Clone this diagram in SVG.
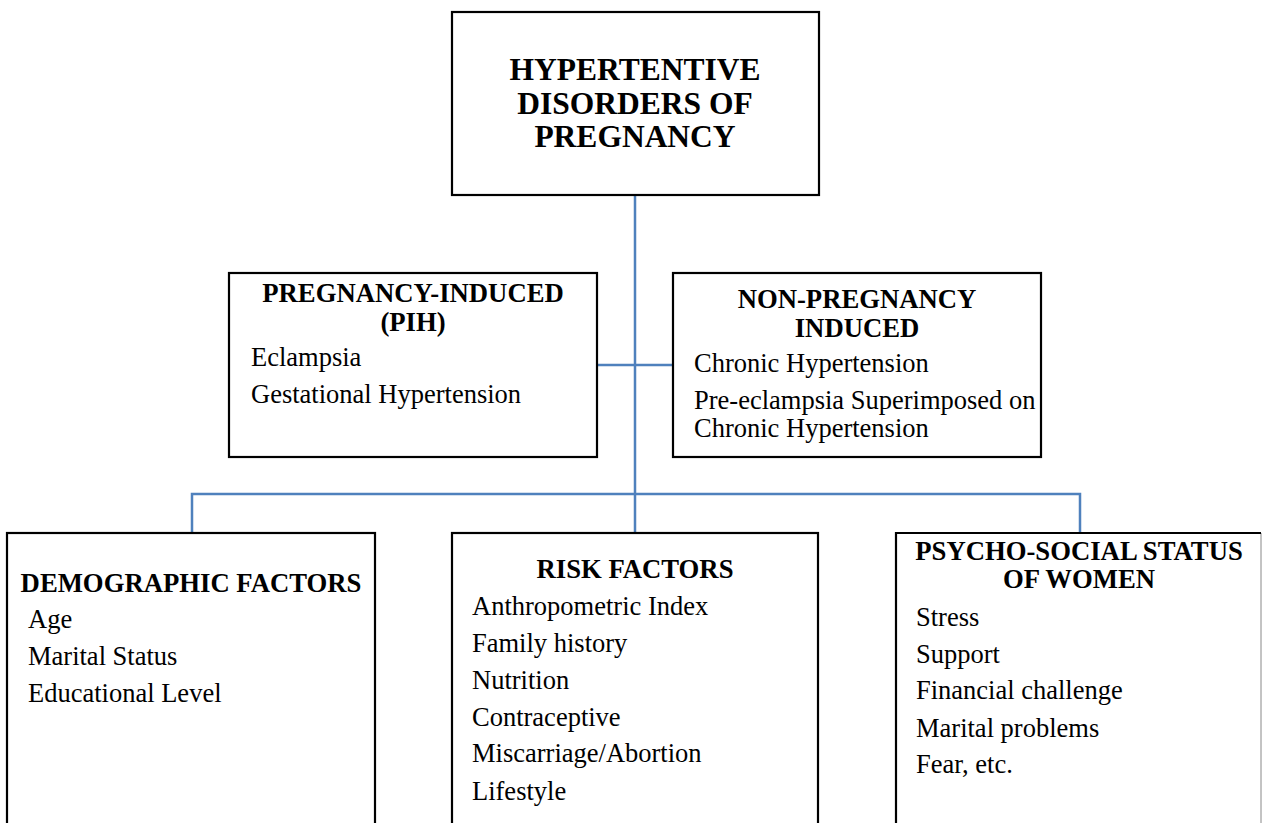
<svg xmlns="http://www.w3.org/2000/svg" width="1262" height="823" viewBox="0 0 1262 823">
<style>
.box{fill:#fff;stroke:#000;stroke-width:2.2}
.conn{fill:none;stroke:#4F81BD;stroke-width:2.5}
text{font-family:'Liberation Serif','Times New Roman',Times,'DejaVu Serif',serif;fill:#000}
.main{font-size:31.5px;font-weight:bold;text-anchor:middle}
.title{font-size:26.7px;font-weight:bold;text-anchor:middle}
.item{font-size:26.5px}
</style>
<rect width="1262" height="823" fill="#fff"/>
<g id="connectors">
<path class="conn" d="M635,195 V533"/>
<path class="conn" d="M597,365 H673"/>
<path class="conn" d="M192,533 V494 H1080 V533"/>
</g>
<g id="node-main">
<rect class="box" x="452" y="12" width="367" height="183"/>
<text class="main" x="635" y="80">HYPERTENTIVE</text>
<text class="main" x="635" y="113.5">DISORDERS OF</text>
<text class="main" x="635" y="147">PREGNANCY</text>
</g>
<g id="node-pih">
<rect class="box" x="229" y="273" width="368" height="184"/>
<text class="title" x="413" y="302">PREGNANCY-INDUCED</text>
<text class="title" x="413" y="331">(PIH)</text>
<text class="item" x="251" y="366">Eclampsia</text>
<text class="item" x="251" y="403">Gestational Hypertension</text>
</g>
<g id="node-npi">
<rect class="box" x="673" y="273" width="368" height="184"/>
<text class="title" x="857" y="308">NON-PREGNANCY</text>
<text class="title" x="857" y="337">INDUCED</text>
<text class="item" x="694" y="372">Chronic Hypertension</text>
<text class="item" x="694" y="409">Pre-eclampsia Superimposed on</text>
<text class="item" x="694" y="437">Chronic Hypertension</text>
</g>
<g id="node-demographic">
<rect class="box" x="7" y="533" width="368" height="300"/>
<text class="title" x="191" y="592">DEMOGRAPHIC FACTORS</text>
<text class="item" x="28" y="628">Age</text>
<text class="item" x="28" y="665">Marital Status</text>
<text class="item" x="28" y="702">Educational Level</text>
</g>
<g id="node-risk">
<rect class="box" x="452" y="533" width="366" height="300"/>
<text class="title" x="635" y="578">RISK FACTORS</text>
<text class="item" x="472" y="615">Anthropometric Index</text>
<text class="item" x="472" y="652">Family history</text>
<text class="item" x="472" y="689">Nutrition</text>
<text class="item" x="472" y="726">Contraceptive</text>
<text class="item" x="472" y="762">Miscarriage/Abortion</text>
<text class="item" x="472" y="800">Lifestyle</text>
</g>
<g id="node-psycho">
<path d="M1261,533 V823" fill="none" stroke="#888" stroke-width="1"/>
<path d="M1261,533 H896 V823" fill="none" stroke="#000" stroke-width="2.2"/>
<text class="title" x="1079" y="560">PSYCHO-SOCIAL STATUS</text>
<text class="title" x="1079" y="588">OF WOMEN</text>
<text class="item" x="916" y="626">Stress</text>
<text class="item" x="916" y="663">Support</text>
<text class="item" x="916" y="699">Financial challenge</text>
<text class="item" x="916" y="737">Marital problems</text>
<text class="item" x="916" y="773">Fear, etc.</text>
</g>
</svg>
